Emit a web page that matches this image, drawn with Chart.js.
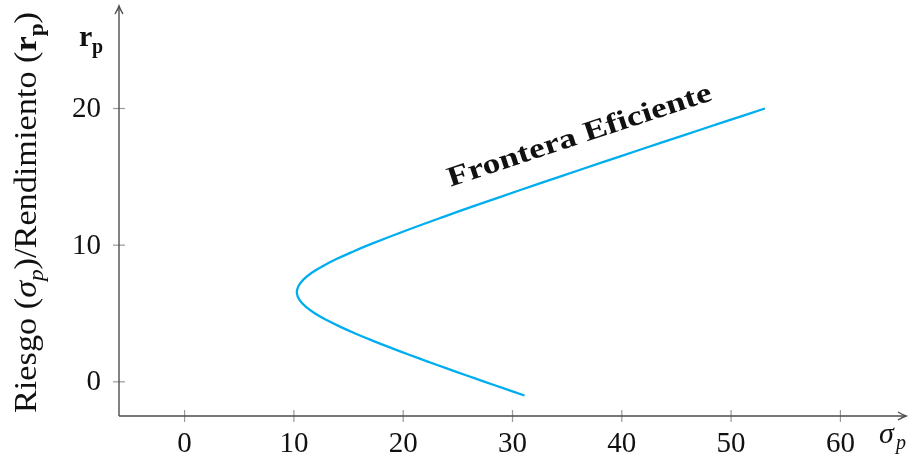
<!DOCTYPE html>
<html>
<head>
<meta charset="utf-8">
<script src="https://cdn.jsdelivr.net/npm/chart.js@4.4.1/dist/chart.umd.min.js"></script>
<style>
  html, body { margin: 0; padding: 0; background: #fff; }
  #wrap { width: 910px; height: 457px; }
</style>
</head>
<body>
<div id="wrap"><canvas id="c"></canvas></div>
<script>
// Rendimiento (eje y) y riesgo (eje x)
const rendimiento = [-1, -0.5, 0, 0.5, 1, 1.5, 2, 2.5, 3, 3.5, 4, 4.5, 5, 5.5, 6, 6.5,
  7, 7.5, 8, 8.5, 9, 9.5, 10, 11, 12, 13, 14, 15, 16, 17, 18, 19, 20];
const riesgo = [31.10, 29.28, 27.47, 25.68, 23.92, 22.18, 20.48, 18.83, 17.24, 15.72, 14.31,
  13.04, 11.94, 11.08, 10.51, 10.27, 10.41, 10.89, 11.67, 12.71, 13.94, 15.32, 16.80,
  20.02, 23.43, 26.97, 30.59, 34.27, 37.99, 41.73, 45.50, 49.29, 53.09];

const xTicks = [0, 10, 20, 30, 40, 50, 60];
const yTicks = [0, 10, 20];
const xRange = [-6, 66];
const yRange = [-2.5, 27.5];
const etiqueta = { text: 'Frontera Eficiente', x: 36.35, y: 17.46 };

const SERIF = '"Liberation Serif", "DejaVu Serif", serif';
const AXIS = '#4d4d4d';
const TICK = '#9a9a9a';

// draws a run of [text, font, dy] parts, centred at 0 and stretched to width
function drawRun(ctx, parts, width) {
  let w = 0;
  parts.forEach(p => { ctx.font = p[1] + ' ' + SERIF; w += ctx.measureText(p[0]).width; });
  ctx.scale(width / w, 1);
  let cx = -w / 2;
  ctx.textAlign = 'left';
  ctx.textBaseline = 'alphabetic';
  parts.forEach(p => {
    ctx.font = p[1] + ' ' + SERIF;
    ctx.fillText(p[0], cx, p[2]);
    cx += ctx.measureText(p[0]).width;
  });
}

const axesPlugin = {
  id: 'texAxes',
  afterDatasetsDraw(chart) {
    const { ctx, chartArea: a, scales: { x, y } } = chart;
    const x0 = a.left, y0 = a.bottom;
    ctx.save();

    // ticks (cross the axis)
    ctx.strokeStyle = TICK;
    ctx.lineWidth = 1.2;
    xTicks.forEach(v => {
      const px = x.getPixelForValue(v);
      ctx.beginPath(); ctx.moveTo(px, y0 - 6); ctx.lineTo(px, y0 + 6); ctx.stroke();
    });
    yTicks.forEach(v => {
      const py = y.getPixelForValue(v);
      ctx.beginPath(); ctx.moveTo(x0 - 6, py); ctx.lineTo(x0 + 6, py); ctx.stroke();
    });

    // axis lines with arrows
    ctx.strokeStyle = AXIS;
    ctx.lineWidth = 1.4;
    ctx.beginPath();
    ctx.moveTo(x0, y0); ctx.lineTo(a.right, y0);
    ctx.moveTo(x0, y0); ctx.lineTo(x0, a.top);
    ctx.stroke();
    ctx.beginPath();
    ctx.moveTo(a.right - 8, y0 - 4); ctx.quadraticCurveTo(a.right - 3, y0 - 1, a.right, y0);
    ctx.quadraticCurveTo(a.right - 3, y0 + 1, a.right - 8, y0 + 4);
    ctx.moveTo(x0 - 4, a.top + 8); ctx.quadraticCurveTo(x0 - 1, a.top + 3, x0, a.top);
    ctx.quadraticCurveTo(x0 + 1, a.top + 3, x0 + 4, a.top + 8);
    ctx.stroke();

    // tick labels
    ctx.fillStyle = '#111';
    ctx.font = '29px ' + SERIF;
    ctx.textAlign = 'center';
    ctx.textBaseline = 'alphabetic';
    xTicks.forEach(v => ctx.fillText(String(v), x.getPixelForValue(v), 452));
    ctx.textAlign = 'right';
    ctx.textBaseline = 'middle';
    yTicks.forEach(v => ctx.fillText(String(v), 101, y.getPixelForValue(v) + 1));

    // x axis name: sigma_p
    ctx.textAlign = 'left';
    ctx.textBaseline = 'alphabetic';
    ctx.font = 'italic 30px ' + SERIF;
    ctx.fillText('σ', 879, 443);
    ctx.font = 'italic 20px ' + SERIF;
    ctx.fillText('p', 896, 449);

    // y axis name: r_p (bold)
    ctx.font = 'bold 30px ' + SERIF;
    ctx.fillText('r', 79, 46);
    ctx.font = 'bold 20px ' + SERIF;
    ctx.fillText('p', 92, 53);

    // rotated y title
    ctx.save();
    ctx.translate(36, 212.5);
    ctx.rotate(-Math.PI / 2);
    drawRun(ctx, [
      ['Riesgo (', '31px', 0], ['σ', 'italic 31px', 0], ['p', 'italic 21px', 7],
      [')/Rendimiento (', '31px', 0], ['r', 'bold 31px', 0], ['p', 'bold 21px', 7], [')', '31px', 0]
    ], 401);
    ctx.restore();

    // curve label
    ctx.save();
    ctx.translate(x.getPixelForValue(etiqueta.x), y.getPixelForValue(etiqueta.y));
    ctx.rotate(-18.3 * Math.PI / 180);
    drawRun(ctx, [[etiqueta.text, 'bold 28px', 0]], 277);
    ctx.restore();

    ctx.restore();
  }
};

new Chart(document.getElementById('c'), {
  type: 'line',
  data: {
    datasets: [{
      data: rendimiento.map((r, i) => ({ x: riesgo[i], y: r })),
      borderColor: '#00aeef',
      borderWidth: 2.3,
      pointRadius: 0,
      tension: 0.4,
      fill: false
    }]
  },
  options: {
    responsive: true,
    maintainAspectRatio: false,
    animation: false,
    layout: { padding: { left: 119, right: 4, top: 6, bottom: 41 } },
    plugins: { legend: { display: false }, tooltip: { enabled: false } },
    scales: {
      x: { type: 'linear', min: xRange[0], max: xRange[1], display: false },
      y: { type: 'linear', min: yRange[0], max: yRange[1], display: false }
    }
  },
  plugins: [axesPlugin]
});
</script>
</body>
</html>
